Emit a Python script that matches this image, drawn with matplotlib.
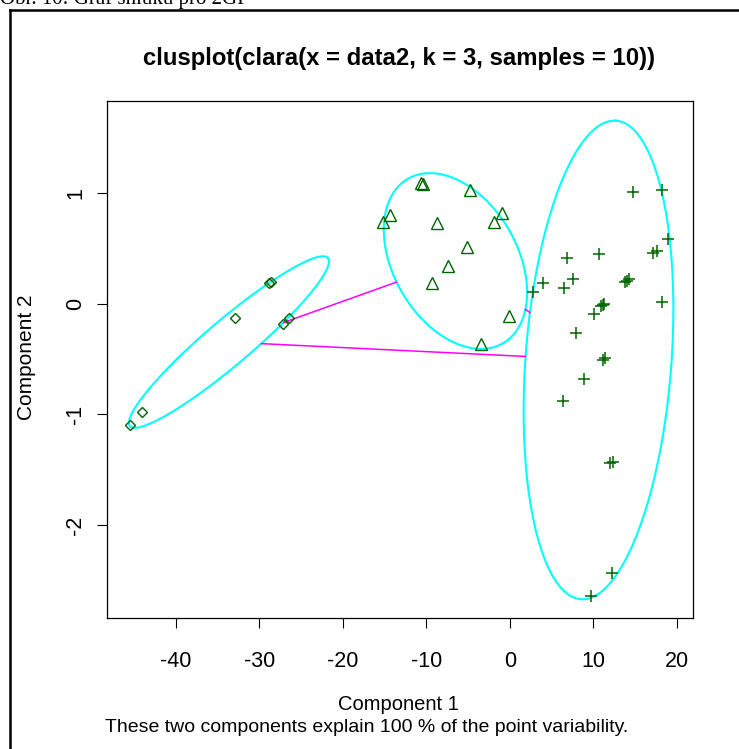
import numpy as np
import matplotlib
matplotlib.use("Agg")
import matplotlib.pyplot as plt
from matplotlib.lines import Line2D
from matplotlib import font_manager

# ---------------- data ----------------
# cluster 1 (diamonds)
c1_x = [-28.9, -28.6, -32.93, -27.14, -26.46, -44.04, -45.51]
c1_y = [0.19, 0.20, -0.125, -0.182, -0.125, -0.980, -1.095]
# cluster 2 (triangles)
c2_x = [-10.64, -10.44, -4.77, -14.36, -15.23, -8.76, -0.97, -1.89, -5.16,
        -7.37, -9.36, -0.06, -3.45]
c2_y = [1.096, 1.080, 1.030, 0.804, 0.743, 0.734, 0.825, 0.743, 0.512,
        0.343, 0.186, -0.107, -0.365]
# cluster 3 (crosses)
c3_x = [14.73, 18.20, 18.99, 6.82, 10.73, 17.20, 17.60, 3.94, 2.82, 7.54,
        6.53, 13.80, 14.32, 14.01, 18.20, 11.13, 10.89, 11.29, 10.09, 7.90,
        11.41, 11.20, 8.89, 6.34, 12.01, 12.33, 12.21, 9.69]
c3_y = [1.015, 1.030, 0.584, 0.412, 0.451, 0.458, 0.481, 0.186, 0.105, 0.222,
        0.147, 0.195, 0.228, 0.210, 0.020, -0.010, -0.019, -0.001, -0.091,
        -0.260, -0.487, -0.507, -0.679, -0.875, -1.441, -1.427, -2.436, -2.642]

# spanning ellipses: center and two conjugate semi-axis vectors (data units)
ell_cx = [-33.65, -6.51, 10.63]
ell_cy = [-0.345, 0.388, -0.507]
ell_ax = [11.86, 5.69, 2.097]
ell_ay = [0.760, -0.744, 2.164]
ell_bx = [1.745, -6.435, 8.724]
ell_by = [-0.155, -0.280, -0.048]

x_ticks = [-40, -30, -20, -10, 0, 10, 20]
y_ticks = [-2, -1, 0, 1]

title = "clusplot(clara(x = data2, k = 3, samples = 10))"
xlabel = "Component 1"
ylabel = "Component 2"
subtitle = "These two components explain 100 % of the point variability."
caption = "Obr. 10: Graf shluků pro 2GP"

# ---------------- style ----------------
names = set(font_manager.get_font_names())
narrow = "Liberation Sans Narrow" if "Liberation Sans Narrow" in names else "Liberation Sans"
plt.rcParams['font.family'] = [narrow, 'DejaVu Sans']

W, H = 739, 749
fig = plt.figure(figsize=(W / 100, H / 100), dpi=100)

L, R, T, B = 107.3, 693.3, 101.0, 618.3
ax = fig.add_axes([L / W, 1 - B / H, (R - L) / W, (B - T) / H])
ax.set_xlim(-48.23, 21.99)
ax.set_ylim(-2.843, 1.835)

green = "#006400"
t = np.linspace(0, 2 * np.pi, 300)
for i in range(3):
    ex = ell_cx[i] + ell_ax[i] * np.cos(t) + ell_bx[i] * np.sin(t)
    ey = ell_cy[i] + ell_ay[i] * np.cos(t) + ell_by[i] * np.sin(t)
    ax.plot(ex, ey, color="#00FFFF", lw=1.5, zorder=2)

# connecting lines between ellipse boundaries (along line of centers)
def boundary_scale(i, d):
    M = np.array([[ell_ax[i], ell_bx[i]], [ell_ay[i], ell_by[i]]])
    return 1.0 / np.linalg.norm(np.linalg.solve(M, d))

for i, j in [(0, 1), (0, 2), (1, 2)]:
    ci = np.array([ell_cx[i], ell_cy[i]])
    cj = np.array([ell_cx[j], ell_cy[j]])
    d = cj - ci
    si = boundary_scale(i, d)
    sj = boundary_scale(j, -d)
    if si + sj < 1:
        p = ci + si * d
        q = cj - sj * d
        ax.plot([p[0], q[0]], [p[1], q[1]], color="#FF00FF", lw=1.1, zorder=2)

ax.plot(c1_x, c1_y, linestyle="none", marker="D", ms=4.8, mfc="none",
        mec=green, mew=1.0, zorder=3)
ax.plot(c2_x, c2_y, linestyle="none", marker="^", ms=8.8, mfc="none",
        mec=green, mew=1.0, zorder=3)
ax.plot(c3_x, c3_y, linestyle="none", marker="+", ms=9.0,
        mec=green, mew=1.1, zorder=3)

for s in ax.spines.values():
    s.set_linewidth(0.9)
ax.set_xticks(x_ticks)
ax.set_xticklabels([str(v) for v in x_ticks])
ax.set_yticks(y_ticks)
ax.set_yticklabels([str(v) for v in y_ticks], rotation=90, va="center")
ax.tick_params(length=7.2, width=0.8, direction="out", labelsize=15.5,
               colors="black")
ax.tick_params(axis="x", pad=16)
ax.tick_params(axis="y", pad=8)

fig.text(399 / W, 1 - 58 / H, title, ha="center", va="center",
         fontsize=17.2, fontweight="bold")
fig.text(398 / W, 1 - 705 / H, xlabel, ha="center", va="center", fontsize=14.5)
fig.text(367 / W, 1 - 727 / H, subtitle, ha="center", va="center", fontsize=14)
fig.text(27 / W, 1 - 357 / H, ylabel, ha="center", va="center", fontsize=15,
         rotation=90)
fig.text(0 / W, 1 - 4 / H, caption, ha="left", va="baseline", fontsize=15,
         family=["Liberation Serif", "DejaVu Serif"])

# outer frame
fig.add_artist(Line2D([9.5 / W, 9.5 / W], [0, 1 - 10 / H], color="black",
                      lw=1.8, transform=fig.transFigure))
fig.add_artist(Line2D([9.5 / W, 1], [1 - 10 / H, 1 - 10 / H], color="black",
                      lw=1.8, transform=fig.transFigure))

fig.savefig("out.png", dpi=100)
